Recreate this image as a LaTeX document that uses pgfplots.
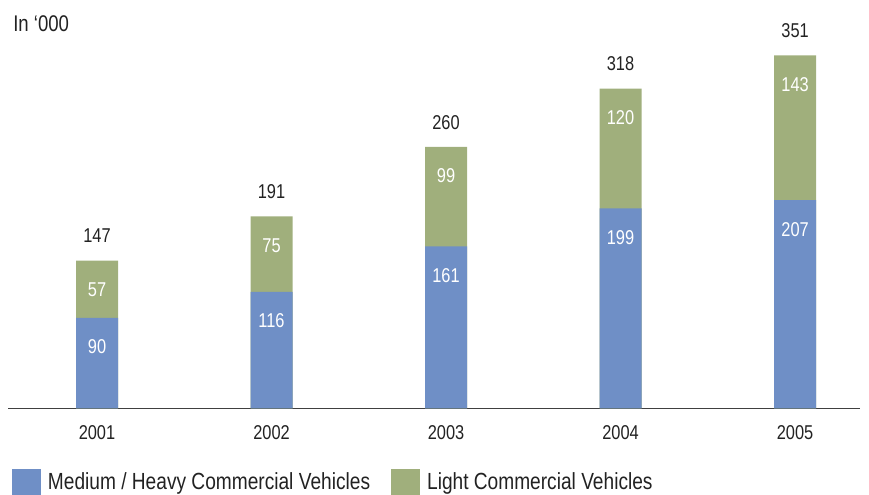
\documentclass[border=0pt]{standalone}
\usepackage{fontspec}
\setmainfont{Liberation Sans}[FakeStretch=0.82]
\usepackage{pgfplots}
\pgfplotsset{compat=1.18}
\definecolor{mhcv}{HTML}{6F8FC6}
\definecolor{lcv}{HTML}{A0AF7C}
\definecolor{txt}{HTML}{222222}
\begin{document}
\begin{tikzpicture}
\useasboundingbox (0,0) rectangle (651.75pt,371.25pt);
\node[anchor=base west, inner sep=0pt, text=txt, font=\fontsize{17}{20}\selectfont] at (9.75pt,347.25pt) {In ‘000};
\begin{axis}[
  at={(6pt,64.9pt)}, anchor=south west,
  scale only axis, width=639pt, height=286.7pt,
  xmin=-0.51, xmax=4.372, ymin=0, ymax=380,
  ybar, bar shift=0pt, bar width=31.5pt,
  axis x line*=bottom, axis y line=none,
  x axis line style={draw=black!75, line width=1.1pt, -},
  xtick={0,1,2,3,4}, xticklabels={2001,2002,2003,2004,2005},
  major tick length=0pt,
  xticklabel style={text=txt, font=\fontsize{15}{18}\selectfont, yshift=-9pt},
  ytick=\empty,
  point meta=explicit symbolic,
  legend columns=2,
  legend style={at={(0.0047,-0.1582)}, anchor=north west, draw=none, fill=none,
    inner sep=0pt, font=\fontsize{17.5}{20}\selectfont, text=txt,
    /tikz/every even column/.append style={column sep=11pt},
    nodes={inner sep=0pt, inner xsep=5pt}},
  legend image code/.code={\fill[#1, draw=none] (0pt,-18pt) rectangle (21.75pt,9.75pt);},
]
\addlegendimage{fill=mhcv}
\addlegendentry{Medium / Heavy Commercial Vehicles}
\addlegendimage{fill=lcv}
\addlegendentry{Light Commercial Vehicles}
% light commercial segment: drawn from 0 up to the total, then covered by MHCV
\addplot[forget plot, fill=lcv, draw=none, nodes near coords,
  every node near coord/.append style={anchor=center, yshift=-21.75pt, text=white, font=\fontsize{15}{18}\selectfont}]
  coordinates {(0,147)[57] (1,191)[75] (2,260)[99] (3,318)[120] (4,351)[143]};
\addplot[forget plot, fill=mhcv, draw=none, nodes near coords,
  every node near coord/.append style={anchor=center, yshift=-21.75pt, text=white, font=\fontsize{15}{18}\selectfont}]
  coordinates {(0,90)[90] (1,116)[116] (2,161)[161] (3,199)[199] (4,207)[207]};
% totals
\addplot[forget plot, fill=none, draw=none, nodes near coords,
  every node near coord/.append style={anchor=center, yshift=18.4pt, text=txt, font=\fontsize{15}{18}\selectfont}]
  coordinates {(0,147)[147] (1,191)[191] (2,260)[260] (3,318)[318] (4,351)[351]};
\end{axis}
\end{tikzpicture}
\end{document}
